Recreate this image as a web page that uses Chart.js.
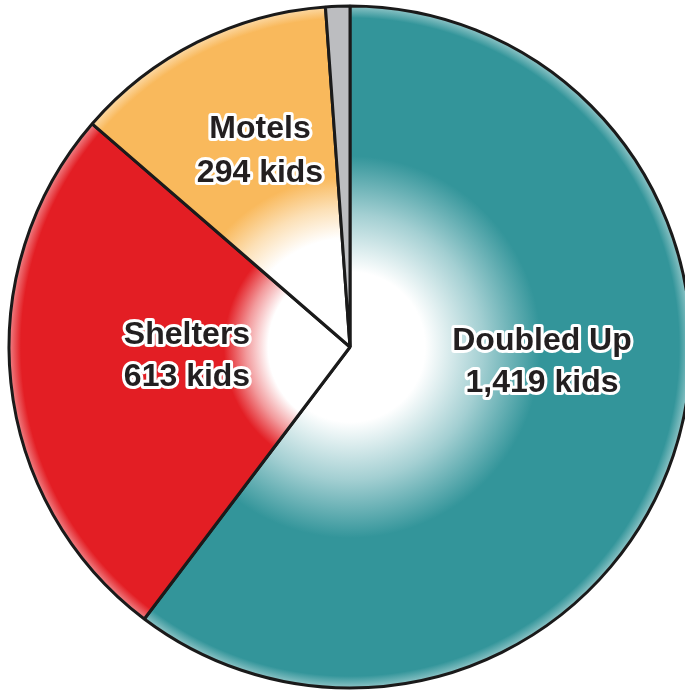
<!DOCTYPE html>
<html>
<head>
<meta charset="utf-8">
<script src="https://cdn.jsdelivr.net/npm/chart.js@4.4.1/dist/chart.umd.min.js"></script>
<style>
  html, body { margin: 0; padding: 0; background: #fff; }
  #wrap { width: 685px; height: 692px; }
</style>
</head>
<body>
<div id="wrap"><canvas id="pie" width="685" height="692"></canvas></div>
<script>
// ====== dados ======
const categorias = ["Doubled Up", "Shelters", "Motels", "Other"];
const criancas = [1419, 613, 294, 27];
const rotulos = ["1,419 kids", "613 kids", "294 kids", ""];
const cores = ["#33959a", "#e31e24", "#f9b95c", "#bcbdc0"];

// onde o branco do centro termina e a cor fica solida (fração do raio)
const fadeInicio = [0.22, 0.24, 0.32, 0];
const fadeFim = [0.56, 0.37, 0.5, 0];

const RAIO = 341;

// posicao dos textos (centro de cada linha)
const posTextos = [
  { x: 542, y1: 350, y2: 392 },
  { x: 187, y1: 344, y2: 386 },
  { x: 260, y1: 138, y2: 182 },
];

function clarear(hex, f) {
  const n = parseInt(hex.slice(1), 16);
  const r = (n >> 16) & 255, g = (n >> 8) & 255, b = n & 255;
  const m = (c) => Math.round(c + (255 - c) * f);
  return `rgb(${m(r)},${m(g)},${m(b)})`;
}

function corFatia(ctx) {
  const i = ctx.dataIndex;
  const chart = ctx.chart;
  const area = chart.chartArea;
  if (!area) return cores[i];
  const x = (area.left + area.right) / 2;
  const y = (area.top + area.bottom) / 2;
  const g = chart.ctx.createRadialGradient(x, y, 0, x, y, RAIO);
  const c = cores[i];
  if (fadeFim[i] === 0) {
    g.addColorStop(0, clarear(c, 0.35));
    g.addColorStop(0.35, c);
    g.addColorStop(1, c);
    return g;
  }
  g.addColorStop(0, "#ffffff");
  g.addColorStop(fadeInicio[i], "#ffffff");
  g.addColorStop((fadeInicio[i] + fadeFim[i]) / 2, clarear(c, 0.55));
  g.addColorStop(fadeFim[i], c);
  g.addColorStop(0.965, c);
  g.addColorStop(1, clarear(c, 0.45));
  return g;
}

const textosPlugin = {
  id: "textos",
  afterDraw(chart) {
    const ctx = chart.ctx;
    ctx.save();
    ctx.font = "bold 32px 'Liberation Sans', Arial, sans-serif";
    ctx.textAlign = "center";
    ctx.textBaseline = "alphabetic";
    ctx.lineJoin = "round";
    posTextos.forEach((p, i) => {
      [[categorias[i], p.y1], [rotulos[i], p.y2]].forEach(([txt, y]) => {
        ctx.lineWidth = 6;
        ctx.strokeStyle = "#ffffff";
        ctx.strokeText(txt, p.x, y);
        ctx.fillStyle = "#231f20";
        ctx.fillText(txt, p.x, y);
      });
    });
    ctx.restore();
  },
};

new Chart(document.getElementById("pie").getContext("2d"), {
  type: "pie",
  data: {
    labels: categorias,
    datasets: [
      {
        data: criancas,
        backgroundColor: corFatia,
        borderColor: "#1a1a1a",
        borderWidth: 3,
      },
    ],
  },
  options: {
    responsive: false,
    animation: false,
    radius: RAIO,
    layout: { padding: { left: 15, right: 0, top: 2, bottom: 0 } },
    plugins: {
      legend: { display: false },
      tooltip: { enabled: false },
    },
  },
  plugins: [textosPlugin],
});
</script>
</body>
</html>
